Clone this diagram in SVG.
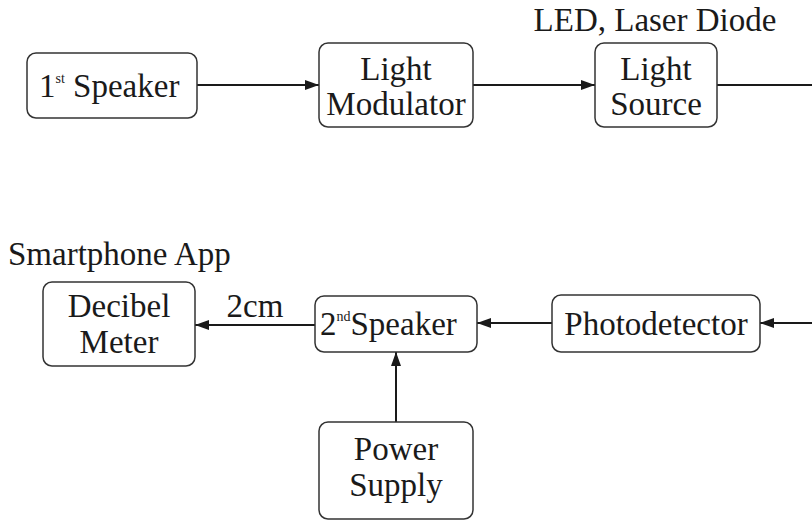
<svg xmlns="http://www.w3.org/2000/svg" width="812" height="521" viewBox="0 0 812 521">
<style>
.box{fill:#fff;stroke:#333;stroke-width:1.5}
.t{font-family:'Liberation Serif',serif;font-size:33px;fill:#1a1a1a}
.c{text-anchor:middle}
.sup{font-size:14px}
.ln{stroke:#1a1a1a;stroke-width:2;fill:none}
</style>
<defs>
<marker id="ah" viewBox="0 0 14 10" refX="14" refY="5" markerWidth="14" markerHeight="10" markerUnits="userSpaceOnUse" orient="auto">
<path d="M0,0 L14,5 L0,10 Z" fill="#1a1a1a"/>
</marker>
</defs>
<rect width="812" height="521" fill="#fff"/>
<g id="connectors">
<line class="ln" x1="197" y1="85" x2="319" y2="85" marker-end="url(#ah)"/>
<line class="ln" x1="473" y1="85" x2="595" y2="85" marker-end="url(#ah)"/>
<line class="ln" x1="717" y1="85" x2="812" y2="85"/>
<line class="ln" x1="812" y1="323" x2="760" y2="323" marker-end="url(#ah)"/>
<line class="ln" x1="552" y1="323" x2="477" y2="323" marker-end="url(#ah)"/>
<line class="ln" x1="315" y1="325" x2="195" y2="325" marker-end="url(#ah)"/>
<line class="ln" x1="396" y1="422" x2="396" y2="352" marker-end="url(#ah)"/>
<text class="t c" x="255" y="317">2cm</text>
</g>
<g id="speaker1">
<rect class="box" x="27" y="53" width="170" height="65" rx="9"/>
<text class="t" x="39" y="97">1<tspan class="sup" dy="-14">st</tspan><tspan dy="14"> Speaker</tspan></text>
</g>
<g id="modulator">
<rect class="box" x="319" y="43" width="154" height="84" rx="9"/>
<text class="t c" x="396" y="80">Light</text>
<text class="t c" x="396" y="115">Modulator</text>
</g>
<g id="source">
<text class="t c" x="655" y="31">LED, Laser Diode</text>
<rect class="box" x="595" y="43" width="122" height="84" rx="9"/>
<text class="t c" x="656" y="80">Light</text>
<text class="t c" x="656" y="115">Source</text>
</g>
<g id="decibel">
<text class="t" x="8" y="265">Smartphone App</text>
<rect class="box" x="43" y="282" width="152" height="84" rx="9"/>
<text class="t c" x="119" y="317">Decibel</text>
<text class="t c" x="119" y="353">Meter</text>
</g>
<g id="speaker2">
<rect class="box" x="315" y="296" width="162" height="56" rx="9"/>
<text class="t" x="320" y="335">2<tspan class="sup" dy="-14">nd</tspan><tspan dy="14">Speaker</tspan></text>
</g>
<g id="photodetector">
<rect class="box" x="552" y="295" width="208" height="57" rx="9"/>
<text class="t c" x="656" y="335">Photodetector</text>
</g>
<g id="power">
<rect class="box" x="319" y="422" width="154" height="97" rx="9"/>
<text class="t c" x="396" y="460">Power</text>
<text class="t c" x="396" y="496">Supply</text>
</g>
</svg>
